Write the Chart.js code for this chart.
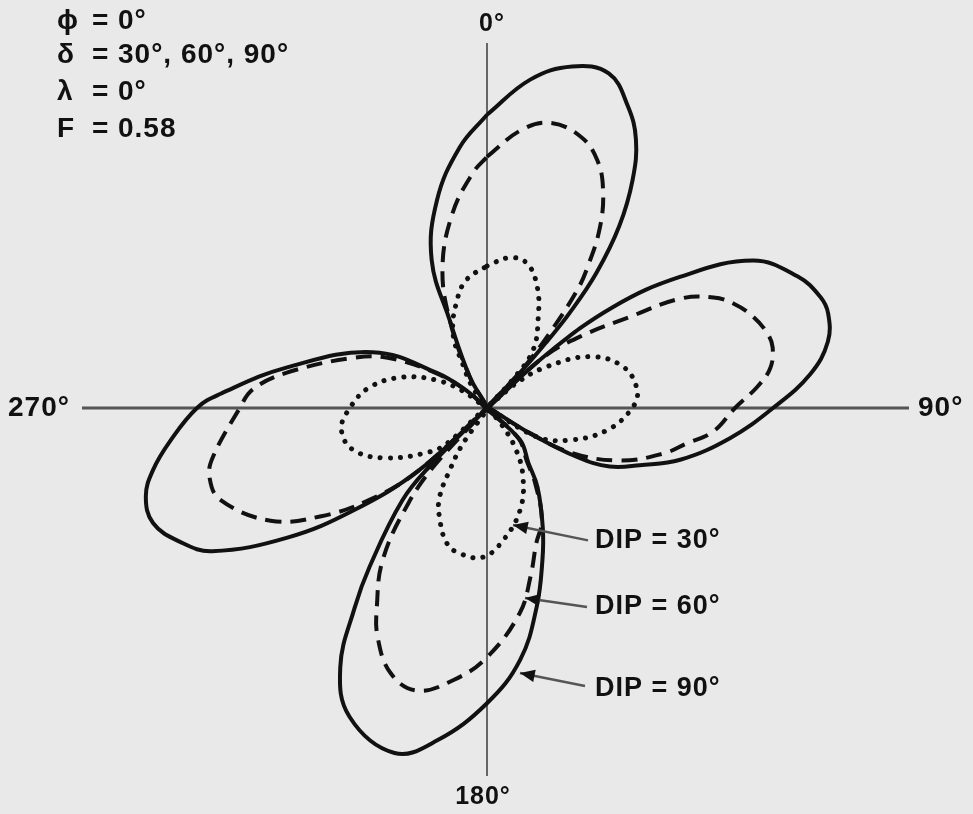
<!DOCTYPE html>
<html lang="en">
<head>
<meta charset="UTF-8">
<title>Radiation pattern, DIP = 30°, 60°, 90°</title>
<script src="https://cdn.jsdelivr.net/npm/chart.js"></script>
<style>
  html, body { margin: 0; padding: 0; background: #e9e9e9; overflow: hidden; }
  .wrap { position: relative; width: 973px; height: 814px; }
</style>
</head>
<body>
<div class="wrap"><canvas id="pattern"></canvas></div>
<script>
// angles in degrees, clockwise from 0° (top); radii = relative field strength
const dip90Angles = [0, 7.5, 14, 20, 25, 29, 32.5, 36, 39, 41, 42, 43, 44.5,
  48, 51.3, 55.8, 61, 67, 71.5, 74.5, 79, 84, 90, 97, 105, 110.5, 115.5, 118.5, 120.5, 125,
  134, 143, 147.5, 155, 160, 166, 172.5, 180, 188.5, 195, 204, 209.5, 213.5, 216.5, 222.5, 224.5, 226,
  227.5, 232.5, 237, 242.5, 246.5, 251, 255.5, 259.5, 264, 270, 273, 281.5, 296, 305, 311, 318,
  331, 337, 339.5, 346.5, 354];
const dip90Radii = [0.733, 0.828, 0.88, 0.89, 0.833, 0.768, 0.678, 0.563, 0.435, 0.315, 0.225, 0.138, 0,
  0.2, 0.404, 0.583, 0.76, 0.843, 0.878, 0.885, 0.868, 0.813, 0.715, 0.613, 0.5, 0.408, 0.34, 0.258, 0.125, 0,
  0.115, 0.172, 0.235, 0.33, 0.405, 0.513, 0.635, 0.738, 0.84, 0.893, 0.845, 0.745, 0.6, 0.493, 0.313, 0.2, 0,
  0.228, 0.42, 0.595, 0.775, 0.838, 0.883, 0.881, 0.849, 0.797, 0.725, 0.668, 0.51, 0.318, 0.153, 0.058, 0,
  0.088, 0.24, 0.395, 0.535, 0.655];

const dip60Angles = [0, 7, 12.5, 19, 24, 28, 32, 35.5, 37.5, 40, 42.5, 44.5,
  48, 52.5, 57.5, 60.5, 64, 67, 71, 75, 78, 82, 85.5, 90, 96, 100, 104.5, 111.5, 118, 120.5, 125,
  134, 143, 147.5, 154, 160, 165.5, 171, 180, 187, 194, 200, 205.5, 209, 214.5, 219.5, 222.5, 226,
  227.5, 232, 237, 242.5, 251, 256, 260, 270, 274.5, 280, 290.5, 297, 305, 311, 318,
  331, 337, 342.5, 350, 356.5];
const dip60Radii = [0.628, 0.70, 0.73, 0.718, 0.678, 0.618, 0.533, 0.433, 0.368, 0.238, 0.125, 0,
  0.188, 0.293, 0.425, 0.555, 0.63, 0.669, 0.703, 0.725, 0.73, 0.715, 0.678, 0.62, 0.568, 0.508, 0.455, 0.358, 0.238, 0.12, 0,
  0.11, 0.165, 0.225, 0.313, 0.36, 0.435, 0.52, 0.623, 0.685, 0.728, 0.705, 0.635, 0.568, 0.46, 0.31, 0.19, 0,
  0.233, 0.373, 0.498, 0.61, 0.705, 0.715, 0.695, 0.618, 0.588, 0.508, 0.358, 0.275, 0.145, 0.055, 0,
  0.088, 0.238, 0.37, 0.495, 0.588];

const dip30Angles = [0, 8.5, 15.5, 22.5, 29.5, 38.5, 42, 45,
  50, 55.5, 63.5, 73, 83, 90, 100.5, 111, 120, 125,
  138, 145, 152.5, 162, 173, 181.5, 190.5, 196.5, 203.5, 208, 211, 214, 220,
  228.5, 232.5, 243.5, 252.5, 261.5, 270, 280, 290, 299, 305, 314,
  325, 331, 335.5, 344.5, 351];
const dip30Radii = [0.355, 0.38, 0.375, 0.328, 0.26, 0.185, 0.1, 0,
  0.1, 0.183, 0.288, 0.355, 0.378, 0.363, 0.305, 0.223, 0.145, 0,
  0.05, 0.125, 0.195, 0.268, 0.333, 0.373, 0.37, 0.353, 0.298, 0.253, 0.18, 0.11, 0,
  0.133, 0.18, 0.28, 0.35, 0.368, 0.343, 0.298, 0.225, 0.143, 0.075, 0,
  0.063, 0.125, 0.205, 0.28, 0.325];

const axisHorizontal = [-1.0125, 1.055];
const axisVertical = [-0.92, 0.9125];

const directionLabels = ['0°', '90°', '180°', '270°'];
const paramSymbols = ['ϕ', 'δ', 'λ', 'F'];
const paramValues = ['0°', '30°, 60°, 90°', '0°', '0.58'];
const dipLabels = ['DIP = 30°', 'DIP = 60°', 'DIP = 90°'];

function toPoints(angles, radii) {
  const pts = angles.map((a, i) => {
    const t = a * Math.PI / 180;
    return { x: radii[i] * Math.sin(t), y: radii[i] * Math.cos(t) };
  });
  pts.push(pts[0]); // close the loop
  return pts;
}

// where the text goes, in chart units (1 unit = 400 px)
const directionPos = [
  { x: 0.0125, y: 0.96, align: 'center', size: 25 },
  { x: 1.0775, y: 0, align: 'left', size: 28 },
  { x: -0.01, y: -0.9725, align: 'center', size: 25 },
  { x: -1.1975, y: 0, align: 'left', size: 28 }
];
const paramRows = [0.9675, 0.8825, 0.79, 0.6975];
const paramCols = [-1.075, -0.9875, -0.9225];
const dipPos = [
  { x: 0.27, y: -0.331, from: [0.2525, -0.331], tip: [0.065, -0.2925] },
  { x: 0.27, y: -0.4975, from: [0.25, -0.4975], tip: [0.095, -0.475] },
  { x: 0.27, y: -0.7025, from: [0.245, -0.695], tip: [0.0825, -0.6625] }
];

const labelsPlugin = {
  id: 'labels',
  afterDatasetsDraw(chart) {
    const { ctx, scales: { x, y } } = chart;
    const px = v => x.getPixelForValue(v);
    const py = v => y.getPixelForValue(v);
    ctx.save();
    ctx.fillStyle = '#111';
    ctx.textBaseline = 'middle';
    ctx.letterSpacing = '1px';

    directionLabels.forEach((t, i) => {
      const p = directionPos[i];
      ctx.font = 'bold ' + p.size + 'px "Liberation Sans", Arial, sans-serif';
      ctx.textAlign = p.align;
      ctx.fillText(t, px(p.x), py(p.y));
    });

    ctx.font = 'bold 28px "Liberation Sans", Arial, sans-serif';
    ctx.textAlign = 'left';
    paramSymbols.forEach((s, i) => {
      ctx.fillText(s, px(paramCols[0]), py(paramRows[i]));
      ctx.fillText('=', px(paramCols[1]), py(paramRows[i]));
      ctx.fillText(paramValues[i], px(paramCols[2]), py(paramRows[i]));
    });

    ctx.font = 'bold 27px "Liberation Sans", Arial, sans-serif';
    dipLabels.forEach((t, i) => {
      const p = dipPos[i];
      ctx.fillText(t, px(p.x), py(p.y));
      // leader line with arrow head
      const x0 = px(p.from[0]), y0 = py(p.from[1]);
      const x1 = px(p.tip[0]), y1 = py(p.tip[1]);
      ctx.strokeStyle = '#555';
      ctx.lineWidth = 2.5;
      ctx.beginPath();
      ctx.moveTo(x0, y0);
      ctx.lineTo(x1, y1);
      ctx.stroke();
      const ang = Math.atan2(y1 - y0, x1 - x0);
      ctx.beginPath();
      ctx.moveTo(x1, y1);
      ctx.lineTo(x1 - 16 * Math.cos(ang - 0.4), y1 - 16 * Math.sin(ang - 0.4));
      ctx.lineTo(x1 - 16 * Math.cos(ang + 0.4), y1 - 16 * Math.sin(ang + 0.4));
      ctx.closePath();
      ctx.fill();
    });
    ctx.restore();
  }
};

new Chart(document.getElementById('pattern'), {
  type: 'scatter',
  data: {
    datasets: [
      {
        label: 'DIP = 90°',
        data: toPoints(dip90Angles, dip90Radii),
        showLine: true,
        borderColor: '#111',
        borderWidth: 4,
        tension: 0.4,
        pointRadius: 0
      },
      {
        label: 'DIP = 60°',
        data: toPoints(dip60Angles, dip60Radii),
        showLine: true,
        borderColor: '#111',
        borderWidth: 4,
        borderDash: [16, 9],
        tension: 0.4,
        pointRadius: 0
      },
      {
        label: 'DIP = 30°',
        data: toPoints(dip30Angles, dip30Radii),
        showLine: true,
        borderColor: '#111',
        borderWidth: 5,
        borderDash: [0.1, 10],
        borderCapStyle: 'round',
        tension: 0.4,
        pointRadius: 0
      },
      {
        label: 'axis 90-270',
        data: axisHorizontal.map(v => ({ x: v, y: 0 })),
        showLine: true,
        borderColor: '#555',
        borderWidth: 3,
        pointRadius: 0
      },
      {
        label: 'axis 0-180',
        data: axisVertical.map(v => ({ x: 0, y: v })),
        showLine: true,
        borderColor: '#666',
        borderWidth: 2,
        pointRadius: 0
      }
    ]
  },
  options: {
    responsive: true,
    maintainAspectRatio: false,
    animation: false,
    layout: { padding: 0, autoPadding: false },
    scales: {
      x: { type: 'linear', display: false, min: -487 / 400, max: 486 / 400 },
      y: { type: 'linear', display: false, min: -406 / 400, max: 408 / 400 }
    },
    plugins: {
      legend: { display: false },
      tooltip: { enabled: false }
    }
  },
  plugins: [labelsPlugin]
});
</script>
</body>
</html>
